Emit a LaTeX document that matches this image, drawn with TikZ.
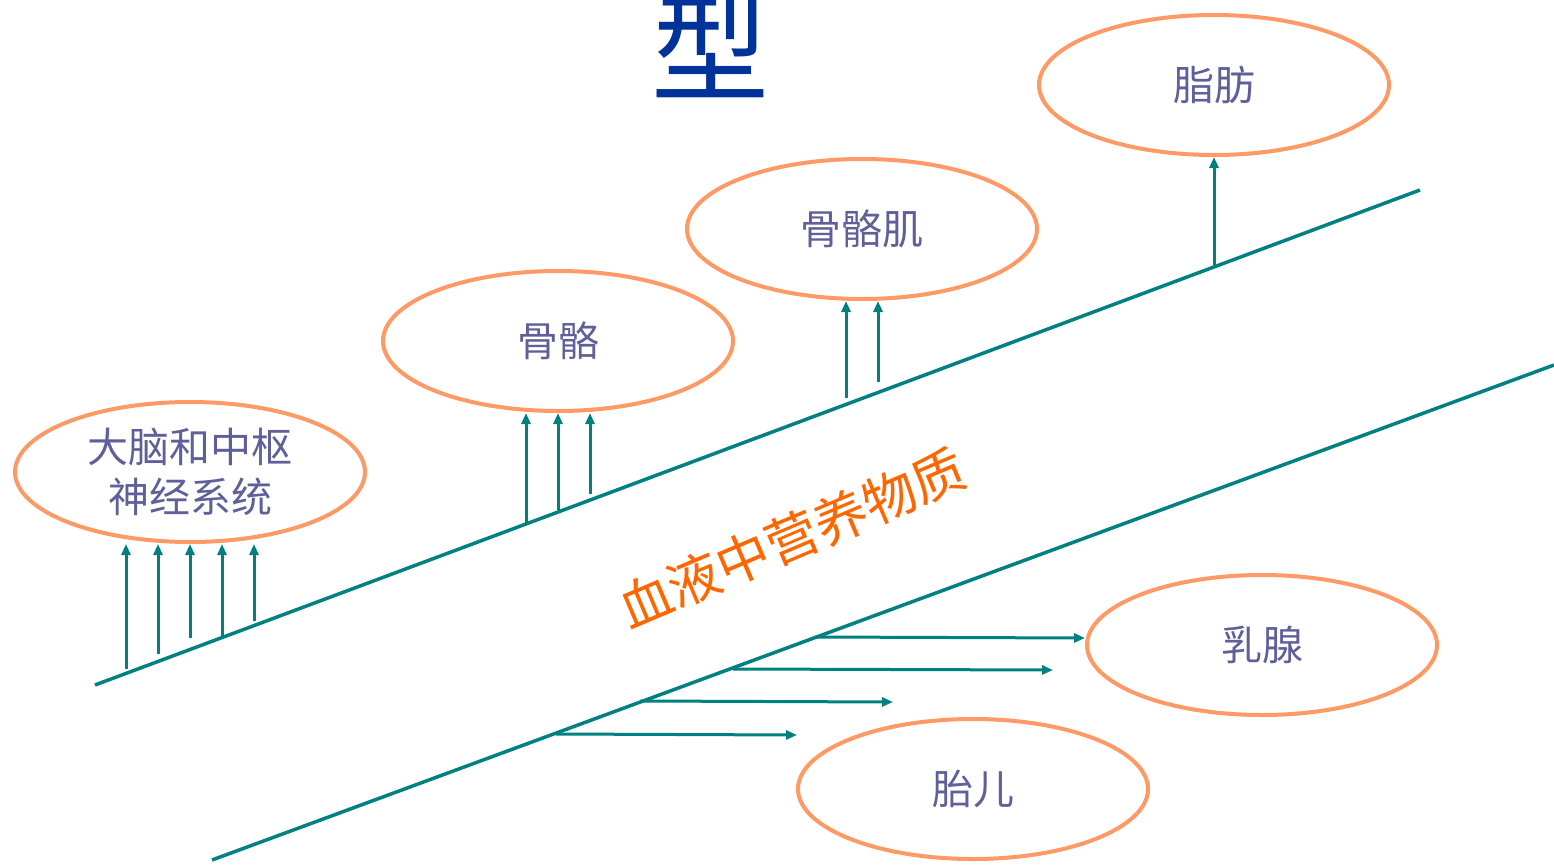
\documentclass[tikz,border=0pt]{standalone}
\usepackage{fontspec}
\newfontfamily\cjk{Noto Sans CJK SC}
\usetikzlibrary{shapes.geometric,arrows.meta}
\definecolor{teal1}{HTML}{008080}
\definecolor{orng}{HTML}{FF9966}
\definecolor{lbl}{HTML}{5F5F99}
\definecolor{ttl}{HTML}{003399}
\definecolor{blood}{HTML}{FF6600}
\tikzset{
  organ/.style={ellipse, draw=orng, line width=4pt, minimum width=350pt, minimum height=140pt, inner sep=0pt, text=lbl, font=\cjk\fontsize{41}{50}\selectfont, align=center},
  vessel/.style={draw=teal1, line width=3.5pt},
  flow/.style={draw=teal1, line width=3pt, -{Triangle[length=11pt,width=9pt]}}
}
\begin{document}
\begin{tikzpicture}[x=1pt,y=-1pt]
\useasboundingbox (0,0) rectangle (1554,864);
% title
\node[anchor=base, text=ttl, font=\cjk\fontsize{118}{120}\selectfont, inner sep=0pt] (title) at (710,93) {型};
% vessels
\coordinate (Ua) at (95,685); \coordinate (Ub) at (1420,190);
\coordinate (La) at (212,860); \coordinate (Lb) at (1554,365);
\draw[vessel] (Ua) -- (Ub);
\draw[vessel] (La) -- (Lb);
% organs
\node[organ] (brain) at (190,472) {大脑和中枢\\神经系统};
\node[organ] (bone) at (558,341) {骨骼};
\node[organ] (muscle) at (862,229) {骨骼肌};
\node[organ] (fat) at (1214,85) {脂肪};
\node[organ] (breast) at (1262,645) {乳腺};
\node[organ] (fetus) at (973,789) {胎儿};
% blood label
\node[rotate=23, text=blood, font=\cjk\fontsize{53}{58}\selectfont] (blood) at (792,538) {血液中营养物质};
% brain arrows
\coordinate (b1) at (126,669); \coordinate (b2) at (158,654);
\coordinate (b3) at (190,638); \coordinate (b4) at (222,637);
\coordinate (b5) at (254,621);
\foreach \c in {b1,b2,b3,b4,b5} \draw[flow] (\c) -- (\c |- brain.south);
% bone arrows
\coordinate (o1) at (526,523); \coordinate (o2) at (558,510); \coordinate (o3) at (590,494);
\foreach \c in {o1,o2,o3} \draw[flow] (\c) -- (\c |- bone.south);
% muscle arrows
\coordinate (m1) at (846,398); \coordinate (m2) at (878,382);
\foreach \c in {m1,m2} \draw[flow] (\c) -- (\c |- muscle.south);
% fat arrow
\coordinate (f1) at (1214,268);
\draw[flow] (f1) -- (f1 |- fat.south);
% right arrows
\coordinate (r1) at (815,637); \coordinate (r1e) at (1085,638);
\coordinate (r2) at (733,669); \coordinate (r2e) at (1053,670);
\coordinate (r3) at (640,701); \coordinate (r3e) at (893,702);
\coordinate (r4) at (556,734); \coordinate (r4e) at (797,735);
\draw[flow] (r1) -- (r1e);
\draw[flow] (r2) -- (r2e);
\draw[flow] (r3) -- (r3e);
\draw[flow] (r4) -- (r4e);
\end{tikzpicture}
\end{document}
